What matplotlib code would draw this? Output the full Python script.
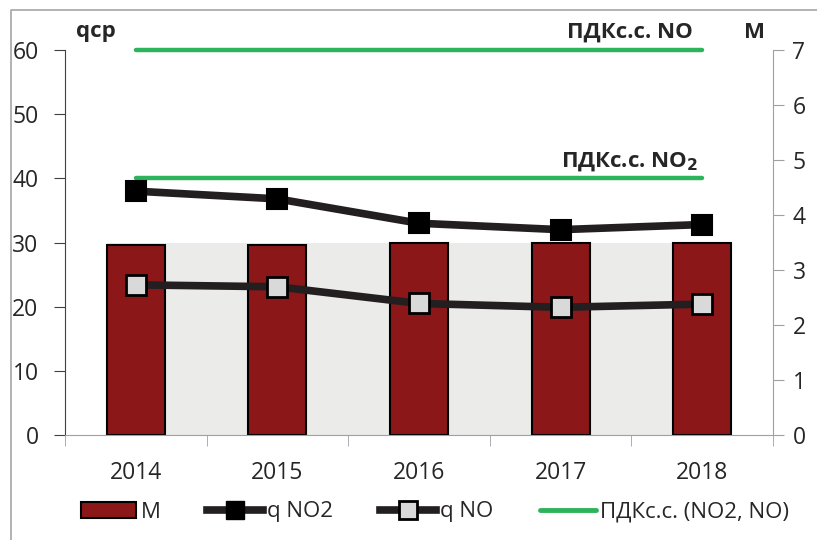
import matplotlib
matplotlib.use("Agg")
import matplotlib.pyplot as plt
from matplotlib.lines import Line2D
from matplotlib.patches import Patch
import numpy as np

plt.rcParams['font.family'] = ['Open Sans', 'DejaVu Sans']

# data
years = ['2014', '2015', '2016', '2017', '2018']
m_vals = [3.45, 3.45, 3.5, 3.5, 3.5]
q_no2 = [38.0, 36.8, 33.0, 32.0, 32.8]
q_no = [23.4, 23.1, 20.5, 19.9, 20.4]
pdk_no2 = 40
pdk_no = 60

bar_color = '#8B1719'
green = '#2DB35B'
line_col = '#231F20'
txt_col = '#262626'

W, H = 817, 540
fig = plt.figure(figsize=(W / 100, H / 100), dpi=100)
ax = fig.add_axes([65 / W, 1 - 435 / H, (773 - 65) / W, (435 - 50) / H])
ax2 = ax.twinx()

x = np.arange(len(years))
bw = 0.41

# bars on the M axis (behind the lines)
ax.set_zorder(ax2.get_zorder() + 1)
ax.patch.set_visible(False)
ax2.patch.set_facecolor('#F0F1F3')
ax2.fill_between([x[0] - bw / 2, x[-1] + bw / 2], 0, max(m_vals),
                 color='#EBEBEA', lw=0, zorder=0)
ax2.bar(x, m_vals, width=bw, color=bar_color, edgecolor='black', lw=1.5, zorder=2)

# limit lines
ax.plot([x[0], x[-1]], [pdk_no, pdk_no], color=green, lw=3.2,
        solid_capstyle='round', zorder=3, clip_on=False)
ax.plot([x[0], x[-1]], [pdk_no2, pdk_no2], color=green, lw=3.2,
        solid_capstyle='round', zorder=3)

ax.plot(x, q_no2, color=line_col, lw=5.5, marker='s', ms=14.5,
        mfc='black', mec='black', mew=1.5, zorder=4, solid_capstyle='round')
ax.plot(x, q_no, color=line_col, lw=5.5, marker='s', ms=14.5,
        mfc='#D9D9D9', mec='black', mew=2, zorder=4, solid_capstyle='round')

ax.set_xlim(-0.5, len(years) - 0.5)
ax.set_ylim(0, 60)
ax2.set_ylim(0, 7)
ax.set_yticks(range(0, 61, 10))
ax2.set_yticks(range(0, 8))

ax.set_xticks(x)
ax.set_xticklabels(years)
ax.set_xticks(np.arange(-0.5, len(years), 1), minor=True)
ax.tick_params(axis='x', which='major', length=0, pad=19, labelsize=16.5, labelcolor=txt_col)
ax.tick_params(axis='x', which='minor', length=8, color='#A0A0A0', direction='out')
ax.tick_params(axis='y', length=8, pad=11, labelsize=16.5, labelcolor=txt_col, color='#404040')
ax2.tick_params(axis='y', length=8, pad=6, labelsize=16.5, labelcolor=txt_col, color='#A0A0A0')

for a in (ax, ax2):
    a.spines['top'].set_visible(False)
ax.spines['left'].set_color('#404040')
ax.spines['bottom'].set_color('#A0A0A0')
ax.spines['right'].set_visible(False)
ax2.spines['left'].set_visible(False)
ax2.spines['bottom'].set_visible(False)
ax2.spines['right'].set_color('#A0A0A0')

# labels
fig.text(96 / W, 1 - 32 / H, 'qcp', ha='center', va='center', fontsize=16,
         fontweight='bold', color=txt_col)
fig.text(755 / W, 1 - 32 / H, 'М', ha='center', va='center', fontsize=16,
         fontweight='bold', color=txt_col)
fig.text(693 / W, 1 - 32 / H, 'ПДКс.с. NO', ha='right', va='center', fontsize=16,
         fontweight='bold', color=txt_col)
fig.text(698 / W, 1 - 162 / H, r'ПДКс.с. NO$_\mathbf{2}$', ha='right', va='center',
         fontsize=16, fontweight='bold', color=txt_col)

# legend
handles = [
    Patch(facecolor=bar_color, edgecolor='black', lw=1.5),
    Line2D([], [], color=line_col, lw=5.5, marker='s', ms=13, mfc='black', mec='black'),
    Line2D([], [], color=line_col, lw=5.5, marker='s', ms=13, mfc='#D9D9D9', mec='black', mew=2),
    Line2D([], [], color=green, lw=3.5, solid_capstyle='round'),
]
labels = ['М', 'q NO2', 'q NO', 'ПДКс.с. (NO2, NO)']
fig.legend(handles, labels, loc='center', bbox_to_anchor=(435 / W, 1 - 512 / H),
           ncol=4, frameon=False, fontsize=16, handlelength=2.5, handleheight=0.7,
           handletextpad=0.2, columnspacing=2.1, labelcolor=txt_col)

# chart border
fig.add_artist(Line2D([10.5 / W, 10.5 / W, 1], [0, 1 - 9.5 / H, 1 - 9.5 / H],
                      color='#A6A6A6', lw=1.2, transform=fig.transFigure))

fig.savefig('out.png', dpi=100)
